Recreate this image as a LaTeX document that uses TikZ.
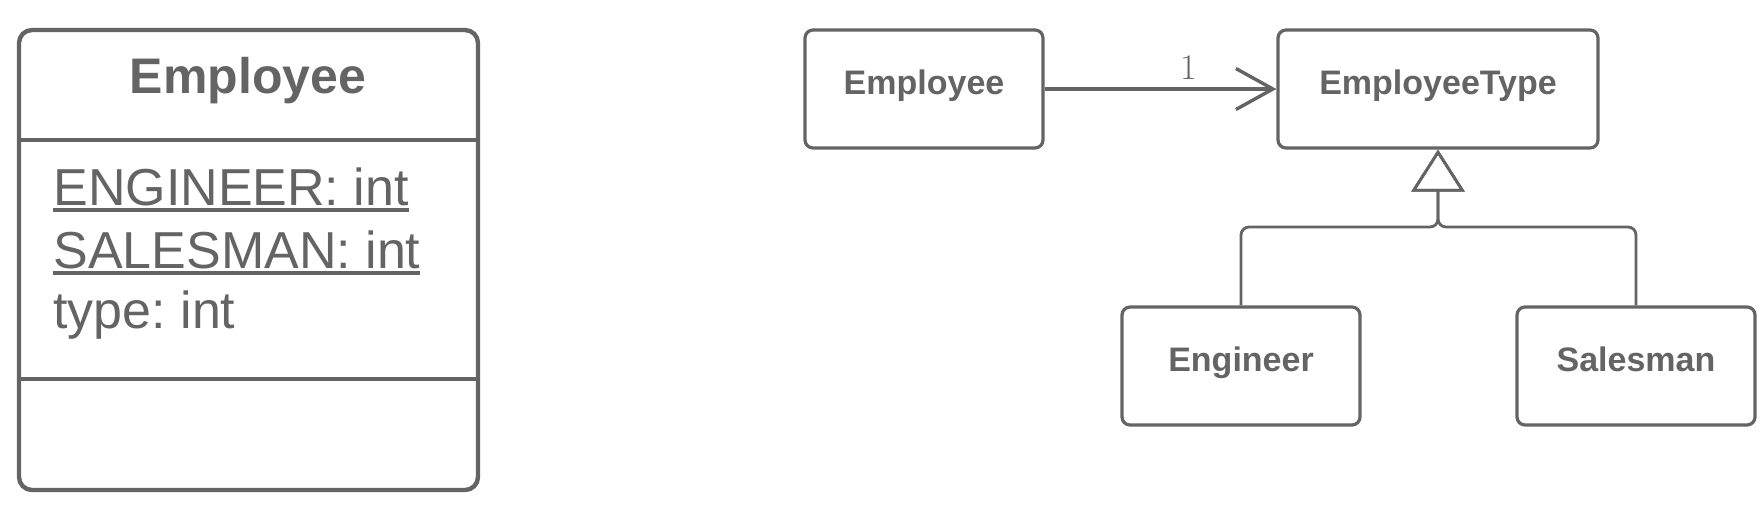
\documentclass[tikz,border=0pt]{standalone}
\usepackage{fontspec}
\setsansfont{Liberation Sans}
\usetikzlibrary{arrows.meta}
\definecolor{umlgray}{HTML}{646464}
\newcommand\staticattr[1]{\setbox0\hbox{#1}\rlap{\rule[-3.3pt]{\wd0}{1.6pt}}\box0}
\tikzset{
  classbox/.style={draw=umlgray, line width=2.2pt, rounded corners=6.5pt,
    minimum width=229.5pt, minimum height=230pt},
  typebox/.style={draw=umlgray, line width=1.6pt, rounded corners=4pt,
    minimum height=59pt, text=umlgray,
    font=\sffamily\bfseries\fontsize{17}{20}\selectfont,
    text height=12pt, text depth=7pt},
  member/.style={anchor=base west, inner sep=0pt, text=umlgray,
    font=\sffamily\fontsize{26}{30}\selectfont\frenchspacing},
  assoc/.style={draw=umlgray, line width=1.7pt,
    -{Straight Barb[length=18.5pt, width=20.5pt]}},
  gen/.style={draw=umlgray, line width=1.4pt, rounded corners=4pt,
    -{Triangle[open, length=21pt, width=26.5pt]}}
}
\begin{document}
\begin{tikzpicture}[x=0.5pt, y=-0.5pt]
  \useasboundingbox (0,0) rectangle (1764,516);
  % class with its three compartments
  \node[classbox] (cls) at (248.5,260) {};
  \draw[umlgray, line width=2.2pt] (cls.west |- 0,140) -- (cls.east |- 0,140);
  \draw[umlgray, line width=2.2pt] (cls.west |- 0,379) -- (cls.east |- 0,379);
  \node[member, anchor=base, font=\sffamily\bfseries\fontsize{25}{30}\selectfont]
    (clsname) at (248,93) {Employee};
  \node[member] (engattr) at (53,205) {\staticattr{ENGINEER: int}};
  \node[member] (salesattr) at (53,268) {\staticattr{SALESMAN: int}};
  \node[member] (typeattr) at (53,328) {type: int};

  % replace type code with class
  \node[typebox, minimum width=119pt] (emp) at (924,89) {Employee};
  \node[typebox, minimum width=160pt] (etype) at (1438,89) {EmployeeType};
  \node[typebox, minimum width=119pt] (eng) at (1241,366) {Engineer};
  \node[typebox, minimum width=119pt] (sales) at (1636,366) {Salesman};
  \coordinate (jn) at (1438,227);

  \draw[assoc] (emp) -- (etype)
    node[pos=0.62, above=4pt, inner sep=0pt, text=umlgray,
      font=\fontsize{18}{20}\selectfont] (mult) {1};
  \draw[gen] (eng.north) |- (jn) -- (etype.south);
  \draw[gen] (sales.north) |- (jn) -- (etype.south);
\end{tikzpicture}
\end{document}
